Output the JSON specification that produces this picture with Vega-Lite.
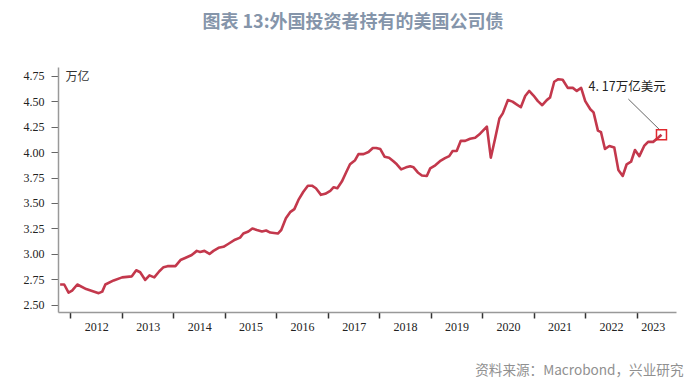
{
  "$schema": "https://vega.github.io/schema/vega-lite/v6.json",
  "width": 618,
  "height": 245,
  "autosize": {"type": "none"},
  "padding": {"left": 58, "top": 67, "right": 24, "bottom": 76},
  "background": "#ffffff",
  "title": {
    "text": "图表 13:外国投资者持有的美国公司债",
    "font": "Noto Sans CJK SC",
    "fontSize": 18,
    "fontWeight": "bold",
    "color": "#8595aa",
    "anchor": "middle",
    "frame": "group",
    "dx": -14,
    "offset": 35
  },
  "config": {
    "view": {"stroke": null},
    "axis": {"grid": false}
  },
  "encoding": {
    "x": {
      "field": "d",
      "type": "temporal",
      "scale": {"domain": [{"year": 2011, "month": 10, "date": 5}, {"year": 2023, "month": 10, "date": 7}]},
      "axis": {
        "tickCount": {"interval": "year", "step": 1},
        "format": "%Y",
        "labelFont": "Liberation Serif",
        "labelFontSize": 12,
        "labelColor": "#222222",
        "labelOffset": {"condition": {"test": "year(datum.value) == 2023", "value": 16}, "value": 25.75},
        "labelFlush": false,
        "labelOverlap": false,
        "labelPadding": 3,
        "tickSize": 6,
        "tickWidth": 1.5,
        "tickColor": "#333333",
        "domainColor": "#999999",
        "domainWidth": 1.5,
        "title": "资料来源：Macrobond，兴业研究",
        "titleFont": "Noto Sans CJK SC",
        "titleFontSize": 13.6,
        "titleFontWeight": "normal",
        "titleColor": "#909090",
        "titleAnchor": "end",
        "titleAlign": "right",
        "titleBaseline": "middle",
        "titleX": 625,
        "titleY": 58
      }
    },
    "y": {
      "field": "v",
      "type": "quantitative",
      "scale": {"domain": [2.43, 4.835], "nice": false, "zero": false},
      "axis": {
        "values": [2.5, 2.75, 3.0, 3.25, 3.5, 3.75, 4.0, 4.25, 4.5, 4.75],
        "format": ".2f",
        "labelFont": "Liberation Serif",
        "labelFontSize": 12,
        "labelColor": "#222222",
        "labelOverlap": false,
        "labelPadding": 7,
        "tickSize": 7,
        "tickColor": "#666666",
        "domainColor": "#999999",
        "domainWidth": 1.5,
        "title": "万亿",
        "titleAngle": 0,
        "titleFont": "Noto Sans CJK SC",
        "titleFontSize": 12,
        "titleFontWeight": "normal",
        "titleColor": "#333333",
        "titleAlign": "left",
        "titleBaseline": "middle",
        "titleX": 7,
        "titleY": 9
      }
    }
  },
  "layer": [
    {
      "data": {
        "values": [
          {"d": "2011-10-20", "v": 2.70},
          {"d": "2011-11-18", "v": 2.70},
          {"d": "2011-12-19", "v": 2.62},
          {"d": "2012-01-13", "v": 2.64},
          {"d": "2012-02-19", "v": 2.70},
          {"d": "2012-04-22", "v": 2.655},
          {"d": "2012-07-20", "v": 2.615},
          {"d": "2012-08-14", "v": 2.63},
          {"d": "2012-09-05", "v": 2.70},
          {"d": "2012-11-03", "v": 2.74},
          {"d": "2013-01-02", "v": 2.77},
          {"d": "2013-03-12", "v": 2.78},
          {"d": "2013-04-12", "v": 2.84},
          {"d": "2013-05-10", "v": 2.82},
          {"d": "2013-06-15", "v": 2.745},
          {"d": "2013-07-15", "v": 2.79},
          {"d": "2013-08-18", "v": 2.77},
          {"d": "2013-09-23", "v": 2.83},
          {"d": "2013-10-23", "v": 2.87},
          {"d": "2013-11-20", "v": 2.88},
          {"d": "2014-01-15", "v": 2.88},
          {"d": "2014-02-20", "v": 2.94},
          {"d": "2014-03-25", "v": 2.96},
          {"d": "2014-05-11", "v": 2.99},
          {"d": "2014-06-16", "v": 3.03},
          {"d": "2014-07-09", "v": 3.02},
          {"d": "2014-08-09", "v": 3.03},
          {"d": "2014-09-14", "v": 3.00},
          {"d": "2014-10-12", "v": 3.03},
          {"d": "2014-11-17", "v": 3.06},
          {"d": "2014-12-22", "v": 3.07},
          {"d": "2015-01-27", "v": 3.10},
          {"d": "2015-03-14", "v": 3.14},
          {"d": "2015-04-19", "v": 3.16},
          {"d": "2015-05-12", "v": 3.20},
          {"d": "2015-06-17", "v": 3.22},
          {"d": "2015-07-15", "v": 3.25},
          {"d": "2015-08-16", "v": 3.235},
          {"d": "2015-09-21", "v": 3.22},
          {"d": "2015-10-21", "v": 3.23},
          {"d": "2015-11-19", "v": 3.21},
          {"d": "2016-01-12", "v": 3.20},
          {"d": "2016-02-05", "v": 3.235},
          {"d": "2016-03-09", "v": 3.35},
          {"d": "2016-04-08", "v": 3.41},
          {"d": "2016-05-08", "v": 3.44},
          {"d": "2016-06-06", "v": 3.53},
          {"d": "2016-07-11", "v": 3.61},
          {"d": "2016-08-12", "v": 3.67},
          {"d": "2016-09-10", "v": 3.67},
          {"d": "2016-10-08", "v": 3.645},
          {"d": "2016-11-13", "v": 3.58},
          {"d": "2016-12-13", "v": 3.59},
          {"d": "2017-01-18", "v": 3.62},
          {"d": "2017-02-11", "v": 3.655},
          {"d": "2017-03-09", "v": 3.645},
          {"d": "2017-04-10", "v": 3.71},
          {"d": "2017-05-10", "v": 3.80},
          {"d": "2017-06-07", "v": 3.88},
          {"d": "2017-07-13", "v": 3.92},
          {"d": "2017-08-06", "v": 3.98},
          {"d": "2017-09-11", "v": 3.98},
          {"d": "2017-10-16", "v": 4.00},
          {"d": "2017-11-16", "v": 4.04},
          {"d": "2017-12-10", "v": 4.04},
          {"d": "2018-01-08", "v": 4.03},
          {"d": "2018-02-07", "v": 3.955},
          {"d": "2018-03-11", "v": 3.945},
          {"d": "2018-04-11", "v": 3.91},
          {"d": "2018-05-05", "v": 3.88},
          {"d": "2018-06-05", "v": 3.83},
          {"d": "2018-07-10", "v": 3.85},
          {"d": "2018-08-08", "v": 3.86},
          {"d": "2018-09-01", "v": 3.85},
          {"d": "2018-10-01", "v": 3.80},
          {"d": "2018-10-30", "v": 3.77},
          {"d": "2018-12-04", "v": 3.765},
          {"d": "2018-12-28", "v": 3.84},
          {"d": "2019-02-02", "v": 3.87},
          {"d": "2019-03-07", "v": 3.91},
          {"d": "2019-04-12", "v": 3.94},
          {"d": "2019-05-12", "v": 3.96},
          {"d": "2019-06-05", "v": 4.01},
          {"d": "2019-07-04", "v": 4.01},
          {"d": "2019-08-02", "v": 4.11},
          {"d": "2019-09-02", "v": 4.11},
          {"d": "2019-10-07", "v": 4.13},
          {"d": "2019-11-12", "v": 4.14},
          {"d": "2019-12-17", "v": 4.18},
          {"d": "2020-02-03", "v": 4.25},
          {"d": "2020-03-02", "v": 3.945},
          {"d": "2020-04-02", "v": 4.135},
          {"d": "2020-05-02", "v": 4.33},
          {"d": "2020-05-26", "v": 4.38},
          {"d": "2020-07-01", "v": 4.51},
          {"d": "2020-08-03", "v": 4.495},
          {"d": "2020-08-29", "v": 4.47},
          {"d": "2020-10-01", "v": 4.44},
          {"d": "2020-11-01", "v": 4.55},
          {"d": "2020-11-29", "v": 4.60},
          {"d": "2020-12-30", "v": 4.555},
          {"d": "2021-01-30", "v": 4.50},
          {"d": "2021-03-02", "v": 4.46},
          {"d": "2021-04-03", "v": 4.51},
          {"d": "2021-04-26", "v": 4.535},
          {"d": "2021-05-26", "v": 4.69},
          {"d": "2021-06-24", "v": 4.715},
          {"d": "2021-07-25", "v": 4.71},
          {"d": "2021-08-30", "v": 4.63},
          {"d": "2021-10-05", "v": 4.63},
          {"d": "2021-11-02", "v": 4.60},
          {"d": "2021-12-03", "v": 4.63},
          {"d": "2022-01-01", "v": 4.50},
          {"d": "2022-02-06", "v": 4.42},
          {"d": "2022-03-01", "v": 4.39},
          {"d": "2022-04-01", "v": 4.21},
          {"d": "2022-04-23", "v": 4.195},
          {"d": "2022-05-21", "v": 4.03},
          {"d": "2022-06-21", "v": 4.06},
          {"d": "2022-07-26", "v": 4.045},
          {"d": "2022-08-24", "v": 3.825},
          {"d": "2022-09-24", "v": 3.765},
          {"d": "2022-10-22", "v": 3.88},
          {"d": "2022-11-22", "v": 3.905},
          {"d": "2022-12-20", "v": 4.02},
          {"d": "2023-01-20", "v": 3.96},
          {"d": "2023-02-23", "v": 4.06},
          {"d": "2023-03-23", "v": 4.10},
          {"d": "2023-04-28", "v": 4.10},
          {"d": "2023-06-02", "v": 4.14},
          {"d": "2023-06-26", "v": 4.17}
        ]
      },
      "mark": {"type": "line", "color": "#c3384c", "strokeWidth": 2.6, "strokeJoin": "round"}
    },
    {
      "data": {"values": [{"d": "2022-11-03", "v": 4.52}]},
      "mark": {"type": "rule", "color": "#666666", "strokeWidth": 1},
      "encoding": {
        "x2": {"datum": {"year": 2023, "month": 6, "date": 16}},
        "y2": {"datum": 4.215}
      }
    },
    {
      "data": {"values": [{"d": "2023-06-26", "v": 4.17}]},
      "mark": {"type": "point", "shape": "square", "filled": false, "color": "#e0282e", "strokeWidth": 1.5, "size": 100, "opacity": 1}
    },
    {
      "data": {"values": [{"d": "2022-10-25", "v": 4.642}]},
      "mark": {"type": "text", "text": "4. 17万亿美元", "font": "Noto Sans CJK SC", "fontSize": 12.5, "color": "#222222", "align": "center", "baseline": "middle"}
    }
  ]
}
